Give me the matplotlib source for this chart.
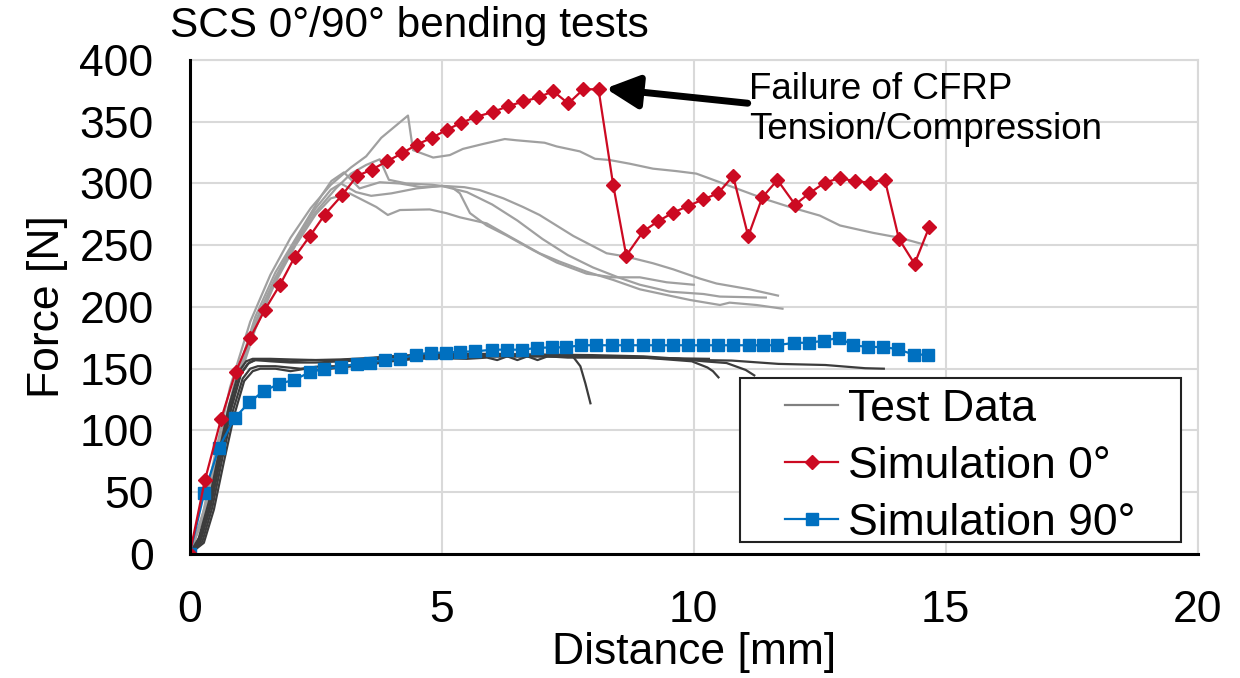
import matplotlib
matplotlib.use('Agg')
import matplotlib.pyplot as plt
from matplotlib.patches import Rectangle

plt.rcParams['font.family'] = ['Liberation Sans', 'DejaVu Sans']

# simulation curves
red_x = [0, 0.30, 0.62, 0.91, 1.20, 1.49, 1.79, 2.08, 2.39, 2.68, 3.02, 3.32, 3.61, 3.91, 4.21,
         4.50, 4.81, 5.10, 5.39, 5.68, 6.01, 6.32, 6.62, 6.92, 7.21, 7.51, 7.81, 8.11, 8.40, 8.66,
         9.00, 9.29, 9.59, 9.89, 10.19, 10.48, 10.78, 11.08, 11.36, 11.66, 12.01, 12.29, 12.60,
         12.90, 13.20, 13.50, 13.79, 14.07, 14.38, 14.67]
red_y = [0, 59.5, 109, 147, 175, 197.7, 217.9, 240.3, 257.8, 274.8, 290.4, 306.1, 311.2, 317.9, 324.4,
         331.4, 337.1, 343.5, 349.2, 354.0, 357.8, 362.7, 366.4, 369.7, 374.8, 364.8, 376.3, 376.3, 299.1, 241.6,
         261.3, 269.4, 276.4, 281.8, 287.2, 292.0, 306.1, 257.3, 288.8, 302.8, 282.9, 292.0, 300.7,
         304.4, 301.8, 300.7, 303.1, 255.1, 234.9, 264.6]

blue_x = [0, 0.29, 0.58, 0.89, 1.18, 1.47, 1.78, 2.07, 2.38, 2.67, 3.00, 3.31, 3.58, 3.88, 4.18,
          4.48, 4.78, 5.08, 5.37, 5.66, 6.00, 6.29, 6.59, 6.89, 7.18, 7.46, 7.76, 8.06, 8.37, 8.67,
          8.99, 9.29, 9.58, 9.89, 10.18, 10.48, 10.78, 11.09, 11.37, 11.65, 11.99, 12.29, 12.58,
          12.88, 13.16, 13.46, 13.76, 14.06, 14.36, 14.65]
blue_y = [0, 49.7, 86, 110, 122.7, 132, 137.8, 141, 147, 150, 151.6, 153.8, 155, 157, 158,
          161.4, 163, 163, 163.8, 164, 165.4, 165.4, 165.4, 166.8, 167.3, 167.3, 169, 169, 169, 169,
          169, 169, 169, 169, 169, 169, 169, 169, 169, 169, 171, 171, 172.7,
          175, 169, 167.6, 167.6, 165.7, 161.4, 161.4]

# test data 0 deg (light grey)
t0_1x = [0, 0.25, 0.5, 0.8, 1.2, 1.6, 2.0, 2.4, 2.8, 3.2, 3.5, 3.8, 4.33, 4.43, 4.83, 5.16, 5.42, 5.82,
         6.25, 6.48, 7.04, 7.28, 7.74, 8.04, 8.33, 8.73, 9.19, 9.66, 10.05, 10.45, 10.91, 11.44, 11.9,
         12.5, 12.9, 13.56, 14.09, 14.62]
t0_1y = [0, 30, 80, 135, 188, 226, 256, 280, 299, 313, 322, 337, 355, 327, 321, 323, 328, 332,
         336, 335, 333, 330, 326, 320, 319, 316, 312, 310, 308, 302, 295, 287, 281,
         274, 266, 260, 256, 250]
t0_2x = [0, 0.3, 0.6, 0.9, 1.3, 1.7, 2.2, 2.61, 2.81, 3.06, 3.37, 3.77, 4.17, 4.6, 5.03, 5.45, 5.75,
         6.22, 6.61, 6.94, 7.61, 8.27, 8.66, 9.19, 9.59, 10.12, 10.45, 11.11, 11.67]
t0_2y = [0, 38, 92, 140, 192, 228, 262, 290, 302, 309, 296, 301, 300, 297, 298, 297, 294.7,
         288, 281, 274.5, 257.5, 243.5, 240.8, 235.4, 230.5, 223, 219, 214.3, 209.2]
t0_3x = [0, 0.3, 0.6, 0.9, 1.3, 1.7, 2.1, 2.5, 2.9, 3.2, 3.5, 3.77, 3.95, 4.3, 4.8, 5.2, 5.36, 5.56,
         5.89, 6.28, 6.81, 7.28, 7.87, 8.4, 8.93, 9.46, 10.0]
t0_3y = [0, 35, 88, 135, 185, 222, 252, 277, 296, 308, 315, 319.6, 303, 300, 299, 297, 292, 276,
         266, 258, 246, 236, 227, 224, 224, 220, 218]
t0_4x = [0, 0.3, 0.6, 0.9, 1.3, 1.7, 2.1, 2.5, 2.8, 3.0, 3.3, 3.6, 4.0, 4.5, 5.0, 5.5, 6.0, 6.5,
         7.0, 7.5, 8.0, 8.5, 8.93, 9.52, 10.19, 10.52, 11.43]
t0_4y = [0, 36, 90, 138, 188, 224, 254, 280, 295, 300, 293, 290, 292, 296, 298, 293, 283, 270,
         255, 242, 232, 224, 218, 212.4, 210.5, 208.4, 207.6]
t0_5x = [0, 0.3, 0.6, 0.9, 1.3, 1.7, 2.1, 2.5, 2.8, 3.17, 3.7, 3.93, 4.17, 4.76, 5.09, 5.36, 5.89,
         6.35, 6.94, 7.34, 7.87, 8.4, 8.93, 9.92, 10.52, 10.71, 11.24, 11.76]
t0_5y = [0, 33, 85, 132, 182, 220, 250, 275, 288, 292, 281, 274.5, 278.5, 279, 276, 272.6, 267.7,
         257, 243.5, 236.7, 228.6, 221.9, 214.3, 205.7, 201.6, 203.5, 201.6, 198.6]

# test data 90 deg (dark grey)
t90_1x = [0, 0.2, 0.4, 0.6, 0.8, 1.0, 1.15, 1.3, 1.6, 2.0, 2.4, 3.0, 3.5, 4.0, 4.5, 5.0, 6.0, 7.0,
          7.6, 7.75, 7.85, 7.95]
t90_1y = [0, 12, 40, 80, 118, 145, 154, 157, 157, 156, 157, 157, 158, 160, 161, 161, 161, 161,
          160, 152, 138, 122]
t90_2x = [0, 0.25, 0.45, 0.65, 0.85, 1.05, 1.2, 1.35, 1.7, 2.2, 2.6, 3.0, 3.5, 4.0, 4.5, 5.0, 6.0,
          7.0, 8.0, 9.0, 9.96, 10.27, 10.38, 10.49]
t90_2y = [0, 10, 38, 78, 115, 142, 150, 152, 152, 150, 152, 152, 154, 157, 159, 159.5, 160,
          160, 160, 159, 156, 151, 148, 143]
t90_3x = [0, 0.22, 0.42, 0.62, 0.82, 1.02, 1.18, 1.3, 1.6, 2.0, 2.5, 3.0, 3.5, 4.0, 5.0, 6.0, 7.0,
          8.0, 9.0, 9.7, 10.2, 10.65, 11.03, 11.2]
t90_3y = [0, 11, 39, 79, 117, 146, 155, 157, 156, 155, 155, 156, 157, 159, 160, 160, 160,
          159.5, 159, 158, 156, 154.6, 149, 144.6]
t90_4x = [0, 0.18, 0.38, 0.58, 0.78, 0.98, 1.12, 1.25, 1.6, 2.0, 2.5, 3.0, 3.5, 4.0, 4.5, 5.0, 6.0,
          7.0, 8.0, 9.0, 10.09, 10.75, 11.68, 12.61, 13.4, 13.77]
t90_4y = [0, 13, 42, 82, 120, 148, 156, 158, 158, 157.5, 157, 157.5, 158.5, 160, 161, 162, 162,
          161.5, 161, 160, 157, 156.6, 153.9, 153, 150.4, 150]
t90_5x = [0, 0.28, 0.48, 0.68, 0.88, 1.08, 1.25, 1.4, 1.7, 2.0, 2.3, 2.6, 3.0, 3.5, 4.0, 4.5, 5.0,
          5.5, 5.9, 6.1, 6.3, 6.5, 6.7, 6.9, 7.1, 7.5, 8.5, 9.5, 10.3]
t90_5y = [0, 9, 36, 75, 112, 140, 148, 150, 150, 148, 150, 149, 151, 153, 156, 158, 158.5,
          158, 159, 157, 160, 157, 160, 157, 160, 159, 159, 158.5, 158]

light = [(t0_1x, t0_1y), (t0_2x, t0_2y), (t0_3x, t0_3y), (t0_4x, t0_4y), (t0_5x, t0_5y)]
dark = [(t90_1x, t90_1y), (t90_2x, t90_2y), (t90_3x, t90_3y), (t90_4x, t90_4y), (t90_5x, t90_5y)]

fig = plt.figure(figsize=(12.4, 6.78), dpi=100)
ax = fig.add_axes([0.153, 0.183, 0.813, 0.7285])

for xs, ys in light:
    ax.plot(xs, ys, color='#a0a0a0', lw=1.6, zorder=2)
for xs, ys in dark:
    ax.plot(xs, ys, color='#3c3c3c', lw=1.6, zorder=2)

ax.plot([], [], color='#808080', lw=1.6, label='Test Data')
ax.plot(red_x, red_y, color='#cc0a22', lw=1.6, marker='D', ms=7.5, label='Simulation 0°', zorder=4)
ax.plot(blue_x, blue_y, color='#0070c0', lw=1.6, marker='s', ms=8.5, label='Simulation 90°', zorder=3)

ax.set_xlim(0, 20)
ax.set_ylim(0, 400)
ax.set_xticks([0, 5, 10, 15, 20])
ax.set_yticks(range(0, 401, 50))
ax.grid(True, color='#d9d9d9', lw=1.5)
ax.set_axisbelow(True)
ax.tick_params(length=0, labelsize=32, pad=26)

for s in ['top', 'right']:
    ax.spines[s].set_color('#d9d9d9')
    ax.spines[s].set_linewidth(1.5)
for s in ['left', 'bottom']:
    ax.spines[s].set_color('black')
    ax.spines[s].set_linewidth(2.2)
    ax.spines[s].set_zorder(5)

ax.set_xlabel('Distance [mm]', fontsize=32, labelpad=1)
ax.set_ylabel('Force [N]', fontsize=32, labelpad=8)

fig.text(0.137, 0.962, 'SCS 0°/90° bending tests', fontsize=30.5, va='center', ha='left')

ax.annotate('', xy=(8.25, 377), xytext=(11.07, 365),
            arrowprops=dict(arrowstyle='-|>,head_length=0.5,head_width=0.25', lw=5,
                            color='black', mutation_scale=40, shrinkA=0, shrinkB=0), zorder=6)
ax.text(11.1, 360, 'Failure of CFRP\nTension/Compression', fontsize=26.5, va='center', ha='left')

# legend box drawn separately (wide side padding like the original)
ax.add_patch(Rectangle((0.5456, 0.0243), 0.4375, 0.332, transform=ax.transAxes,
                       facecolor='white', edgecolor='#222222', lw=1.5, zorder=7))
leg = ax.legend(loc='center', bbox_to_anchor=(0.7644, 0.178), borderaxespad=0,
                fontsize=32, frameon=False, handlelength=1.2,
                handletextpad=0.22, labelspacing=0.36, borderpad=0)
leg.set_zorder(8)

plt.savefig('out.png', dpi=100)
